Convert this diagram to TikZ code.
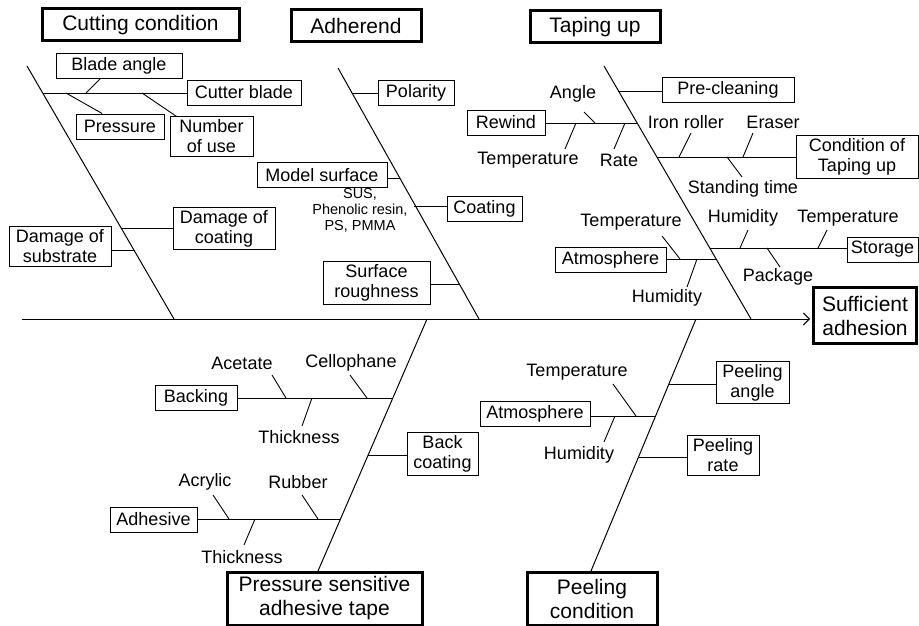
\documentclass[tikz,border=0pt]{standalone}
\usepackage{fontspec}
\setmainfont{Liberation Sans}
\usepackage{tikz}
\usetikzlibrary{arrows.meta, positioning, calc}

\tikzset{
  cause/.style={draw, line width=0.9pt, inner xsep=4pt, inner ysep=3pt, minimum height=25pt, align=center, font=\fontsize{18}{20}\selectfont},
  title/.style={draw, line width=3pt, minimum height=32pt, align=center, font=\fontsize{21}{24}\selectfont},
  lbl/.style={inner sep=0pt, font=\fontsize{18}{20}\selectfont},
  note/.style={inner sep=0pt, align=center, font=\fontsize{14.5}{16}\selectfont},
  bone/.style={line width=1pt},
  twig/.style={line width=0.9pt}
}

\begin{document}
\begin{tikzpicture}[x=1pt, y=-1pt]
    \useasboundingbox (0,0) rectangle (919,626);

    % main groups
    \node[title, minimum width=197] (cut) at (140.5,25) {Cutting condition};
    \node[title, minimum width=130] (adh) at (356,26) {Adherend};
    \node[title, minimum width=130] (tap) at (595,27) {Taping up};
    \node[title, minimum width=195, minimum height=53] (psa) at (324.5,598.5) {Pressure sensitive\\adhesive tape};
    \node[title, minimum width=130, minimum height=53] (peel) at (592,598.5) {Peeling\\condition};
    \node[title, minimum width=103, minimum height=56] (suff) at (865,315.5) {Sufficient\\adhesion};

    % spine and bones
    \coordinate (tail) at (22,319);
    \draw[bone, -{Straight Barb[length=6pt, width=12pt]}] (tail) -- ($(tail -| suff.west)+(-2,0)$);
    \coordinate (cutTop) at (27,66);   \coordinate (cutEnd) at (174,319);
    \coordinate (adhTop) at (338,68);  \coordinate (adhEnd) at (479,319);
    \coordinate (tapTop) at (604,66);  \coordinate (tapEnd) at (751,319);
    \coordinate (psaTop) at (427,319); \coordinate (psaEnd) at (318,571);
    \coordinate (peelTop) at (696,319); \coordinate (peelEnd) at (591,571);
    \draw[bone] (cutTop) -- (cutEnd);
    \draw[bone] (adhTop) -- (adhEnd);
    \draw[bone] (tapTop) -- (tapEnd);
    \draw[bone] (psaTop) -- (psaEnd);
    \draw[bone] (peelTop) -- (peelEnd);

    % cutting condition
    \node[cause, minimum width=114] (blade) at (244,92.5) {Cutter blade};
    \node[cause, minimum width=126] (bang) at (119,66) {Blade angle};
    \node[cause, minimum width=88] (pres) at (120,126.5) {Pressure};
    \node[cause, minimum width=83] (nou) at (211.5,136.5) {Number\\of use};
    \node[cause, minimum width=102] (dcoat) at (224,228.5) {Damage of\\coating};
    \node[cause, minimum width=102] (dsub) at (60,246.5) {Damage of\\substrate};
    \coordinate (cb) at (43,93);
    \coordinate (cb1) at (86,93);
    \coordinate (cb2) at (66,93);
    \coordinate (cb3) at (142,93);
    \coordinate (cd) at (122,228);
    \coordinate (cs) at (134,250);
    \draw[twig] (cb) -- (cb -| blade.west);
    \draw[twig] (cb1) -- ($(bang.south west)!.35!(bang.south east)$);
    \draw[twig] (cb2) -- ($(pres.north west)!.3!(pres.north east)$);
    \draw[twig] (cb3) -- ($(nou.north west)+(7,0)$);
    \draw[twig] (cd) -- (cd -| dcoat.west);
    \draw[twig] (cs -| dsub.east) -- (cs);

    % adherend
    \node[cause, minimum width=76] (pol) at (416,93) {Polarity};
    \node[cause, minimum width=130] (model) at (322,175) {Model surface};
    \node[note] (mats) at (360,210) {SUS,\\Phenolic resin,\\PS, PMMA};
    \node[cause, minimum width=75] (coat) at (484.5,208.5) {Coating};
    \node[cause, minimum width=107] (rough) at (376.5,283) {Surface\\roughness};
    \coordinate (ab1) at (352,93);
    \coordinate (ab2) at (400,178);
    \coordinate (ab3) at (414,206);
    \coordinate (ab4) at (460,284);
    \draw[twig] (ab1) -- (ab1 -| pol.west);
    \draw[twig] (ab2 -| model.east) -- (ab2);
    \draw[twig] (ab3) -- (ab3 -| coat.west);
    \draw[twig] (ab4 -| rough.east) -- (ab4);

    % taping up
    \node[cause, minimum width=132] (precl) at (728,89.5) {Pre-cleaning};
    \node[cause, minimum width=78] (rew) at (506,122.5) {Rewind};
    \node[cause, minimum width=122] (cond) at (857,157) {Condition of\\Taping up};
    \node[cause, minimum width=71] (stor) at (882.5,249.5) {Storage};
    \node[cause, minimum width=111] (atm1) at (610.5,259.5) {Atmosphere};
    \node[lbl] (angle) at (573,94) {Angle};
    \node[lbl] (rtemp) at (528,160) {Temperature};
    \node[lbl] (rrate) at (619,160) {Rate};
    \node[lbl] (iron) at (686,122) {Iron roller};
    \node[lbl] (eras) at (773,122) {Eraser};
    \node[lbl] (stand) at (743,189) {Standing time};
    \node[lbl] (shum) at (743,218) {Humidity};
    \node[lbl] (stemp) at (848,218) {Temperature};
    \node[lbl] (pack) at (778,277) {Package};
    \node[lbl] (atemp) at (631,222) {Temperature};
    \node[lbl] (ahum) at (667,298) {Humidity};
    \coordinate (tb1) at (618,91);
    \coordinate (tb2) at (637,123);
    \coordinate (tb3) at (657,157);
    \coordinate (tb4) at (710,248);
    \coordinate (tb5) at (716,259);
    \draw[twig] (tb1) -- (tb1 -| precl.west);
    \draw[twig] (tb2 -| rew.east) -- (tb2);
    \draw[twig] (tb3) -- (tb3 -| cond.west);
    \draw[twig] (tb4) -- (tb4 -| stor.west);
    \draw[twig] (tb5 -| atm1.east) -- (tb5);
    \coordinate (tb2a) at (595,123);
    \coordinate (tb2b) at (576,123);
    \coordinate (tb2c) at (625,123);
    \draw[twig] (tb2a) -- ++(-11,-11);
    \draw[twig] (tb2b) -- ++(-11,26);
    \draw[twig] (tb2c) -- ++(-11,26);
    \coordinate (tb3a) at (679,157);
    \coordinate (tb3b) at (743,157);
    \coordinate (tb3c) at (727,157);
    \draw[twig] (tb3a) -- ++(12,-24);
    \draw[twig] (tb3b) -- ++(10,-24);
    \draw[twig] (tb3c) -- ++(15,20);
    \coordinate (tb4a) at (740,248);
    \coordinate (tb4b) at (818,248);
    \coordinate (tb4c) at (767,248);
    \draw[twig] (tb4a) -- ++(8,-18);
    \draw[twig] (tb4b) -- ++(9,-18);
    \draw[twig] (tb4c) -- ++(13,19);
    \coordinate (tb5a) at (680,259);
    \coordinate (tb5b) at (697,259);
    \draw[twig] (tb5a) -- ++(-18,-23);
    \draw[twig] (tb5b) -- ++(-10,28);

    % pressure sensitive adhesive tape
    \node[cause, minimum width=82] (back) at (196,398) {Backing};
    \node[cause, minimum width=71] (bcoat) at (442.5,454) {Back\\coating};
    \node[cause, minimum width=87] (adhs) at (153.5,519.5) {Adhesive};
    \node[lbl] (acet) at (242,363) {Acetate};
    \node[lbl] (cell) at (351,363) {Cellophane};
    \node[lbl] (thk1) at (299,437) {Thickness};
    \node[lbl] (acry) at (205,482) {Acrylic};
    \node[lbl] (rubb) at (298,482) {Rubber};
    \node[lbl] (thk2) at (242,557) {Thickness};
    \coordinate (pb1) at (392,398);
    \coordinate (pb2) at (368,455);
    \coordinate (pb3) at (340,519);
    \draw[twig] (pb1 -| back.east) -- (pb1);
    \draw[twig] (pb2) -- (pb2 -| bcoat.west);
    \draw[twig] (pb3 -| adhs.east) -- (pb3);
    \coordinate (pb1a) at (286,398);
    \coordinate (pb1b) at (367,398);
    \coordinate (pb1c) at (312,398);
    \draw[twig] (pb1a) -- ++(-14,-23);
    \draw[twig] (pb1b) -- ++(-17,-23);
    \draw[twig] (pb1c) -- ++(-10,28);
    \coordinate (pb3a) at (229,519);
    \coordinate (pb3b) at (318,519);
    \coordinate (pb3c) at (255,519);
    \draw[twig] (pb3a) -- ++(-16,-24);
    \draw[twig] (pb3b) -- ++(-16,-24);
    \draw[twig] (pb3c) -- ++(-11,26);

    % peeling condition
    \node[cause, minimum width=73] (pang) at (752.5,382.5) {Peeling\\angle};
    \node[cause, minimum width=110] (atm2) at (535,413.5) {Atmosphere};
    \node[cause, minimum width=72] (prate) at (723,455.5) {Peeling\\rate};
    \node[lbl] (ptemp) at (577,372) {Temperature};
    \node[lbl] (phum) at (579,455) {Humidity};
    \coordinate (eb1) at (669,384);
    \coordinate (eb2) at (656,416);
    \coordinate (eb3) at (639,457);
    \draw[twig] (eb1) -- (eb1 -| pang.west);
    \draw[twig] (eb2 -| atm2.east) -- (eb2);
    \draw[twig] (eb3) -- (eb3 -| prate.west);
    \coordinate (eb2a) at (636,416);
    \coordinate (eb2b) at (615,416);
    \draw[twig] (eb2a) -- ++(-23,-32);
    \draw[twig] (eb2b) -- ++(-11,26);
\end{tikzpicture}
\end{document}
